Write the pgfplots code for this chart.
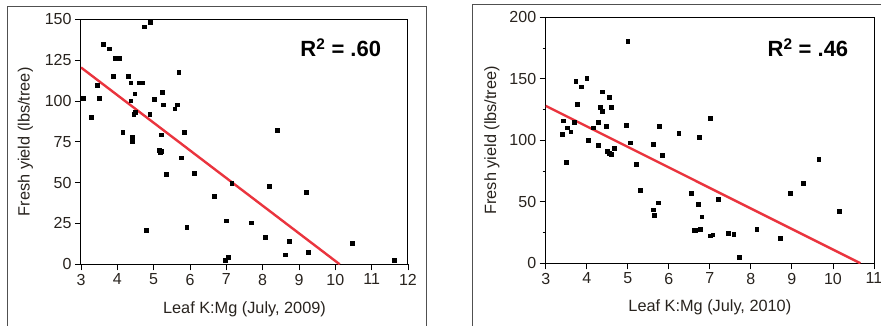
\documentclass[border=0pt]{standalone}
\usepackage{pgfplots}
\pgfplotsset{compat=1.18}
\usepackage{fontspec}
\setmainfont{Liberation Sans}
\definecolor{fitred}{RGB}{234,52,62}
\definecolor{boxgray}{RGB}{80,80,80}
\definecolor{txt}{RGB}{40,35,30}
\pgfplotsset{
  panel/.style={
    scale only axis,
    axis line style={black, line width=1pt},
    tick style={black, line width=0.9pt},
    tick align=outside,
    xtick pos=bottom, ytick pos=left,
    major tick length=6pt, minor tick length=3pt,
    tick label style={font=\fontsize{16}{19}\selectfont, text=txt},
    label style={font=\fontsize{16.3}{19}\selectfont, text=txt},
    /pgf/number format/assume math mode=true,
    scaled ticks=false,
    xtick distance=1,
    ylabel={Fresh yield (lbs/tree)},
  },
  dots/.style={only marks, mark=square*, mark size=1.9pt, black},
  fit/.style={fitred, line width=2.4pt, no marks},
}
\begin{document}
\begin{tikzpicture}
\path[use as bounding box] (0,0) rectangle (881pt,326pt);
% outer frames
\draw[boxgray, line width=1pt] (7pt,-5pt) -- (7pt,319pt) -- (426pt,319pt) -- (426pt,-5pt);
\draw[boxgray, line width=1pt] (472pt,-5pt) -- (472pt,321pt) -- (890pt,321pt);
% left panel
\begin{axis}[panel,
  at={(81pt,61.7pt)}, anchor=south west,
  width=327pt, height=245pt,
  xmin=3, xmax=12, ymin=0, ymax=150,
  ytick={0,25,50,75,100,125,150},
  xlabel={Leaf K:Mg (July, 2009)},
  xlabel style={at={(axis description cs:0.5,-0.182)}, anchor=center},
  ylabel style={at={(axis description cs:-0.1697,0.5)}, anchor=center},
]
\addplot[dots] coordinates {
(3.05,101.8) (3.28,90.2) (3.44,109.6) (3.51,101.8) (3.62,134.7) (3.78,132)
(3.95,126) (4.05,126) (3.89,115.3) (4.15,81) (4.30,115.3) (4.37,111.2)
(4.37,100.2) (4.41,77.8) (4.41,75.5) (4.45,92) (4.49,93.3) (4.48,104.5)
(4.59,111.2) (4.70,111.2) (4.75,145.5) (4.90,148) (4.79,21) (4.89,92)
(5.02,101) (5.15,70) (5.20,69) (5.17,68.5) (5.21,79.4) (5.24,105.5)
(5.27,97.7) (5.35,55.3) (5.58,95.3) (5.65,97.7) (5.69,117.8) (5.76,65.3)
(5.84,81) (5.91,22.7) (6.12,55.9) (6.67,41.8) (6.97,2.6) (7.0,26.7)
(7.05,4.5) (7.15,49.6) (7.68,25.5) (8.06,16.7) (8.17,47.8) (8.40,82)
(8.62,5.9) (8.73,14.3) (9.19,44.3) (9.25,7.5) (10.46,12.8) (11.63,2.6)
};
\addplot[fit] coordinates {(3,120.5) (10.12,0)};
\node[font=\fontsize{22}{26}\selectfont\bfseries] at (axis cs:10.15,132.5) {R\textsuperscript{2} = .60};
\end{axis}
% right panel
\begin{axis}[panel,
  at={(545.7pt,62.7pt)}, anchor=south west,
  width=328.3pt, height=246pt,
  xmin=3, xmax=11, ymin=0, ymax=200,
  ytick={0,50,100,150,200}, minor ytick={25,75,125,175},
  xlabel={Leaf K:Mg (July, 2010)},
  xlabel style={at={(axis description cs:0.5,-0.18)}, anchor=center},
  ylabel style={at={(axis description cs:-0.1636,0.5)}, anchor=center},
]
\addplot[dots] coordinates {
(3.40,104.9) (3.43,116) (3.50,82.4) (3.53,110.3) (3.61,107) (3.70,114.9)
(3.73,148.2) (3.76,129.3) (3.87,143.6) (4.00,150.4) (4.04,100.2) (4.16,110.3)
(4.27,114.9) (4.27,95.9) (4.33,127) (4.37,123.8) (4.37,139.5) (4.47,111.4)
(4.50,91) (4.55,89.5) (4.60,89) (4.54,135) (4.60,127) (4.67,93.7)
(4.97,112.4) (5.00,180.5) (5.06,98.1) (5.21,80.5) (5.31,59.3) (5.61,97)
(5.61,43.6) (5.64,39) (5.74,49.3) (5.77,111.4) (5.84,88) (6.24,105.9)
(6.54,56.9) (6.61,26.8) (6.64,26.8) (6.71,48) (6.75,102.4) (6.77,27.9)
(6.80,37.9) (7.01,118.1) (7.01,22.4) (7.07,23.3) (7.21,52.3) (7.44,24.6)
(7.58,23.6) (7.71,4.9) (8.14,27.9) (8.71,20.3) (8.95,57.2) (9.28,65)
(9.65,84.6) (10.15,42.5)
};
\addplot[fit] coordinates {(3,128) (10.67,0)};
\node[font=\fontsize{22}{26}\selectfont\bfseries] at (axis cs:9.39,175.4) {R\textsuperscript{2} = .46};
\end{axis}
\end{tikzpicture}
\end{document}
